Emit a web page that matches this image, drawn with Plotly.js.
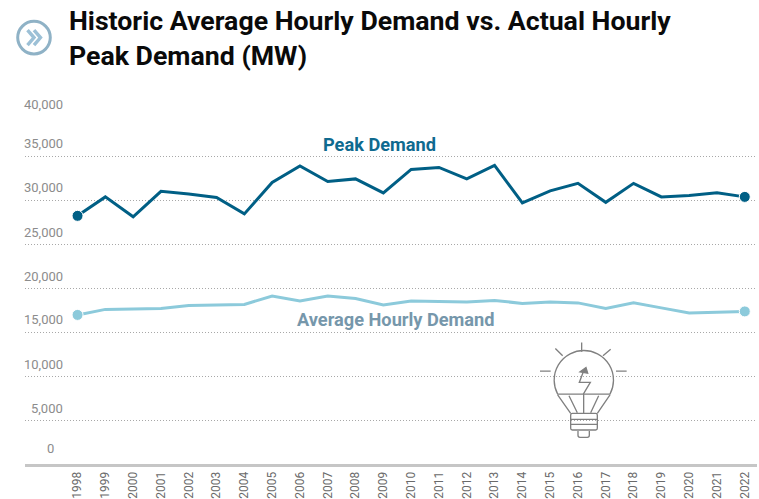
<!DOCTYPE html>
<html>
<head>
<meta charset="utf-8">
<script src="https://cdn.plot.ly/plotly-3.0.1.min.js"></script>
<style>html,body{margin:0;padding:0;background:#fff}#chart{width:759px;height:499px}</style>
</head>
<body>
<div id="chart"></div>
<script>
const years = [1998,1999,2000,2001,2002,2003,2004,2005,2006,2007,2008,2009,2010,2011,2012,2013,2014,2015,2016,2017,2018,2019,2020,2021,2022];
const peakDemand = [28280,30440,28170,31070,30780,30380,28500,32090,33960,32200,32490,30900,33570,33800,32490,34020,29760,31120,31980,29820,31980,30440,30610,30900,30440];
const averageDemand = [16990,17620,17670,17730,18070,18130,18190,19150,18580,19150,18870,18130,18580,18530,18470,18640,18300,18470,18360,17730,18360,17790,17220,17280,17390];
const yTicks = [0,5000,10000,15000,20000,25000,30000,35000,40000];
const yTickLabels = ['0','5,000','10,000','15,000','20,000','25,000','30,000','35,000','40,000'];
const yLabelLift = [15.5,12,12,13,12.5,12,13,13,9];

const W = 759, H = 499, L = 25, R = 2, T = 112.5, B = 35;
const px = x => (x - L) / (W - L - R);
const py = y => 1 - (y - T) / (H - T - B);
const svg = (w, h, body) => 'data:image/svg+xml;utf8,' + encodeURIComponent(
  `<svg xmlns="http://www.w3.org/2000/svg" width="${w}" height="${h}" viewBox="0 0 ${w} ${h}">${body}</svg>`);

const badge = svg(40, 40,
  `<circle cx="20" cy="20" r="16.3" fill="none" stroke="#8fb2c6" stroke-width="3"/>
   <path d="M13.5 12.5 L20 20 L13.5 27.5 M20 12.5 L26.5 20 L20 27.5" fill="none" stroke="#9cc0d6" stroke-width="3.4"/>`);

const bulb = svg(130, 115,
  `<g transform="scale(0.3333)" fill="none" stroke="#808080" stroke-width="4">
   <path d="M185 37V65M106 55L128 77M272 57L249 77M60 123H92M288 123H320"/>
   <path d="M113 192A89 89 0 1 1 270 192Z"/>
   <path d="M113 194L152 250M270 194L232 250M147 197L172 248M236 197L212 248M191 192V250"/>
   <rect x="152" y="250" width="80" height="50" rx="5"/>
   <path d="M152 268H232M152 283H232"/>
   <path d="M174 303V316Q174 322 180 322H202Q208 322 208 316V303"/>
   <path d="M190 125L178 157H211L190 192"/>
   <path d="M198 112L180 125L203 129Z" fill="#808080"/>
   </g>`);

const endSizes = years.map((_, i) => (i === 0 || i === years.length - 1) ? 11 : 0);

const traces = [
  {x: years, y: peakDemand, type: 'scatter', mode: 'lines+markers', name: 'Peak Demand',
   line: {color: '#005f85', width: 3}, marker: {color: '#005f85', size: endSizes, opacity: 1}, hoverinfo: 'x+y'},
  {x: years, y: averageDemand, type: 'scatter', mode: 'lines+markers', name: 'Average Hourly Demand',
   line: {color: '#8ccadb', width: 3}, marker: {color: '#8ccadb', size: endSizes, opacity: 1}, hoverinfo: 'x+y'}
];

const tickAnnotations = yTicks.map((v, i) => ({
  xref: 'paper', yref: 'y', x: px(v === 0 ? 56 : 65), y: v, yshift: yLabelLift[i],
  xanchor: 'right', yanchor: 'middle', showarrow: false, text: yTickLabels[i],
  font: {family: 'Roboto, sans-serif', size: 13, color: '#8c8c8c'}
}));

const layout = {
  width: W, height: H,
  margin: {l: L, r: R, t: T, b: B, pad: 0},
  paper_bgcolor: '#fff', plot_bgcolor: '#fff',
  showlegend: false,
  title: {
    text: '<b>Historic Average Hourly Demand vs. Actual Hourly<br>Peak Demand (MW)</b>',
    font: {family: 'Roboto, sans-serif', size: 26.7, color: '#0a0a0a'},
    xref: 'container', yref: 'container', x: 69 / W, xanchor: 'left',
    y: 1 - 30 / H, yanchor: 'top', pad: {t: 0, l: 0}, automargin: false
  },
  xaxis: {
    range: [1996.11, 2022.44], tickmode: 'array', tickvals: years, ticktext: years.map(String),
    tickangle: -90, showgrid: false, zeroline: false, ticks: '', ticklen: 0,
    showline: true, linecolor: '#c6c6c6', linewidth: 3,
    tickfont: {family: 'Roboto, sans-serif', size: 12, color: '#6a6a6a'}, fixedrange: true
  },
  yaxis: {
    range: [0, 40000], tickmode: 'array', tickvals: yTicks, showticklabels: false,
    showgrid: true, gridcolor: '#a8a8a8', gridwidth: 1, griddash: '1px,2px',
    zeroline: false, showline: false, ticks: '', fixedrange: true
  },
  annotations: tickAnnotations.concat([
    {xref: 'x', yref: 'y', x: 2008.85, y: 36450, text: '<b>Peak Demand</b>', showarrow: false,
     font: {family: 'Roboto, sans-serif', size: 18.2, color: '#0f6a8f'}},
    {xref: 'x', yref: 'y', x: 2009.45, y: 16450, text: '<b>Average Hourly Demand</b>', showarrow: false,
     font: {family: 'Roboto, sans-serif', size: 18.2, color: '#7697ab'}}
  ]),
  images: [
    {source: badge, xref: 'paper', yref: 'paper', x: px(14), y: py(17), sizex: 40 / (W - L - R), sizey: 40 / (H - T - B),
     xanchor: 'left', yanchor: 'top', sizing: 'stretch', layer: 'above'},
    {source: bulb, xref: 'paper', yref: 'paper', x: px(520), y: py(330), sizex: 130 / (W - L - R), sizey: 115 / (H - T - B),
     xanchor: 'left', yanchor: 'top', sizing: 'stretch', layer: 'above'}
  ]
};

Plotly.newPlot('chart', traces, layout, {displayModeBar: false, responsive: false});
</script>
</body>
</html>
